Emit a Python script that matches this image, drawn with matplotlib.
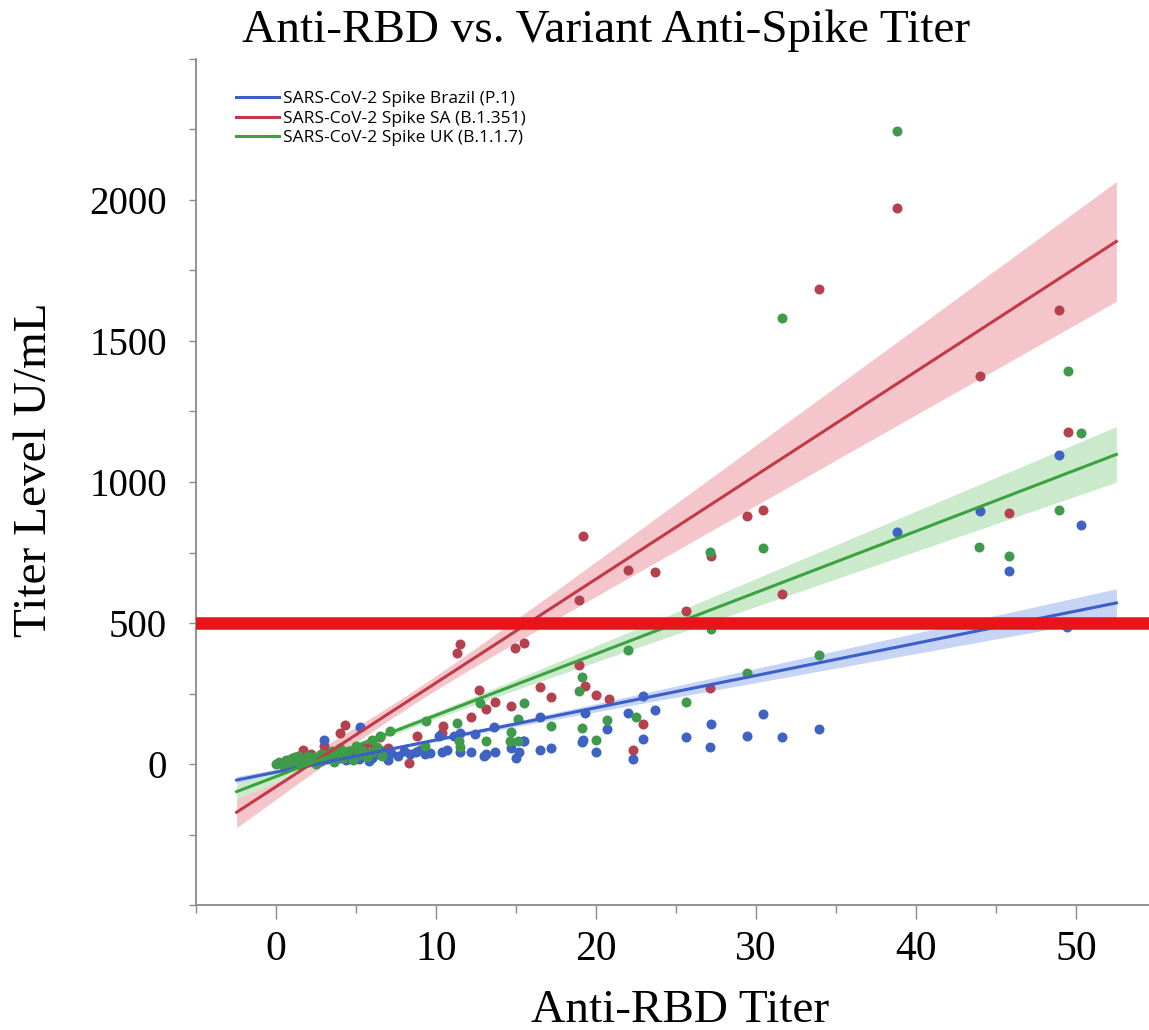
import numpy as np
import matplotlib
matplotlib.use('Agg')
import matplotlib.pyplot as plt

# Anti-RBD titer vs variant titer
brazil_x = [48.9, 50.3, 44.0, 38.8, 45.8, 49.4, 30.4, 27.2, 25.6, 29.4, 31.6, 33.9, 27.1, 23.7,
            22.9, 22.9, 22.3, 22.0, 20.7, 20.0, 19.1, 19.2, 19.3, 17.2, 16.5, 16.5, 15.5, 15.2,
            15.0, 15.4, 14.7, 13.7, 13.1, 13.6, 12.4, 12.2, 11.5, 11.1, 10.7, 10.35, 10.2, 9.3,
            8.75, 13.0, 11.5, 5.25, 3.0,
            0.2, 0.5, 0.8, 1.0, 1.3, 1.7, 2.0, 2.4, 2.8, 3.2, 3.6, 4.0, 4.4, 4.8, 5.2, 5.6,
            6.0, 6.3, 6.8, 7.2, 7.6, 8.0, 8.4, 9.0, 9.6, 7.0, 5.8, 6.5]
brazil_y = [1097, 847, 896, 823, 685, 485, 179, 142, 95, 101, 94, 124, 59, 190,
            241, 88, 16, 182, 124, 44, 78, 85, 182, 57, 48, 167, 81, 43,
            20, 83, 55, 43, 37, 130, 106, 43, 43, 100, 49, 43, 100, 34,
            43, 30, 109, 131, 85,
            2, 5, 8, 3, 10, 12, 6, 15, 10, 18, 12, 22, 15, 25, 18, 30,
            22, 35, 28, 40, 30, 45, 35, 50, 40, 15, 10, 50]

sa_x = [38.8, 33.9, 48.9, 44.0, 49.5, 29.4, 30.4, 45.8, 27.2, 19.2, 22.0, 23.7, 18.9, 31.6,
        25.6, 14.9, 15.5, 11.5, 11.3, 18.9, 19.3, 27.1, 16.5, 17.2, 20.0, 20.8, 12.7, 13.7,
        13.1, 14.7, 12.2, 22.9, 22.3, 10.4, 10.35, 8.8, 6.5, 8.3, 4.3, 4.0, 3.0, 1.7,
        0.3, 0.8, 1.2, 2.2, 2.6, 3.4, 4.6, 5.0, 5.5, 6.0, 2.0, 7.0, 1.0]
sa_y = [1970, 1685, 1611, 1375, 1177, 880, 900, 890, 737, 808, 688, 680, 580, 602,
        543, 410, 430, 425, 394, 351, 278, 268, 274, 237, 244, 229, 262, 221,
        194, 206, 165, 142, 50, 133, 109, 101, 97, 2, 138, 109, 63, 51,
        5, 15, 25, 35, 20, 40, 45, 30, 60, 75, 10, 55, 0]

uk_x = [38.8, 31.6, 49.5, 50.3, 48.9, 30.4, 43.9, 45.8, 27.1, 27.2, 22.0, 33.9, 29.4, 25.6,
        19.1, 18.9, 15.5, 12.75, 20.0, 20.7, 19.1, 22.5, 17.2, 15.1, 14.7, 15.1, 11.3, 9.4,
        7.1, 11.4, 9.3, 11.5, 13.1, 14.6, 6.5,
        0.0, 0.2, 0.4, 0.6, 0.8, 1.0, 1.2, 1.4, 1.6, 1.8, 2.0, 2.2, 2.4, 2.6, 2.8, 3.0,
        3.3, 3.6, 3.9, 4.2, 4.5, 4.8, 5.1, 5.4, 5.7, 6.0, 6.3, 6.6, 0.5, 1.5, 2.5, 3.5,
        5.0, 6.0, 4.0]
uk_y = [2243, 1581, 1392, 1175, 900, 766, 770, 738, 752, 477, 404, 386, 321, 221,
        310, 260, 217, 217, 85, 156, 129, 167, 136, 158, 114, 81, 144, 153,
        117, 80, 65, 60, 80, 83, 99,
        0, 8, 2, 15, 5, 20, 10, 28, 4, 18, 30, 12, 24, 6, 35, 16,
        28, 8, 38, 20, 45, 14, 32, 50, 25, 42, 60, 30, -8, -5, 0, 45,
        65, 85, 55]

labels = ['SARS-CoV-2 Spike Brazil (P.1)', 'SARS-CoV-2 Spike SA (B.1.351)', 'SARS-CoV-2 Spike UK (B.1.1.7)']

# fitted lines as drawn in the figure (intercept, slope) and confidence band size
fit_intercept = [-28.9, -80.4, -44.5]
fit_slope = [11.43, 36.83, 21.76]
band_min = [5.6, 23.7, 11.0]
band_center = 8.0
band_scale = 5.0
fit_range = [-2.46, 52.5]
threshold = 500

point_colors = ['#3e63c3', '#b5414f', '#409a4c']
line_colors = ['#3c5ec8', '#c23a48', '#3aa23e']
band_colors = ['#c6d4f5', '#f4c6cb', '#cbeacc']

W, H = 1149, 1030
fig = plt.figure(figsize=(W / 100, H / 100), dpi=100)
ax = fig.add_axes([196 / W, 125 / H, (1150 - 196) / W, (905 - 59) / H])

xx = np.linspace(fit_range[0], fit_range[1], 200)
for i in range(3):
    yy = fit_intercept[i] + fit_slope[i] * xx
    hw = band_min[i] * np.sqrt(1 + ((xx - band_center) / band_scale) ** 2)
    ax.fill_between(xx, yy - hw, yy + hw, color=band_colors[i], lw=0, zorder=1)

series = [(brazil_x, brazil_y), (sa_x, sa_y), (uk_x, uk_y)]
for i in [1, 0, 2]:
    ax.scatter(series[i][0], series[i][1], s=52, color=point_colors[i], lw=0, zorder=2)

for i in range(3):
    yy = fit_intercept[i] + fit_slope[i] * xx
    ax.plot(xx, yy, color=line_colors[i], lw=2.2, zorder=3, label=labels[i])

ax.axhline(threshold, color='#e8141c', lw=9, zorder=4)

ax.set_xlim(-5, 54.6)
ax.set_ylim(-500, 2500)

for s in ['top', 'right']:
    ax.spines[s].set_visible(False)
for s in ['left', 'bottom']:
    ax.spines[s].set_color('#8a8a8a')
    ax.spines[s].set_linewidth(1.3)

serif = 'Liberation Serif'
ax.set_xticks([0, 10, 20, 30, 40, 50])
ax.set_xticks([-5, 5, 15, 25, 35, 45], minor=True)
ax.set_yticks([0, 500, 1000, 1500, 2000])
ax.set_yticks([-500, -250, 250, 750, 1250, 1750, 2250, 2500], minor=True)
ax.tick_params(axis='x', which='major', length=10, width=1, color='#8a8a8a', pad=8,
               labelsize=30)
ax.tick_params(axis='x', which='minor', length=6, width=1, color='#8a8a8a')
ax.tick_params(axis='y', which='both', length=5, width=1, color='#8a8a8a')
ax.tick_params(axis='y', which='major', pad=16, labelsize=28)
for t in ax.get_xticklabels() + ax.get_yticklabels():
    t.set_family(serif)

fig.text(606 / W, 1 - 42 / H, 'Anti-RBD vs. Variant Anti-Spike Titer', family=serif,
         fontsize=34, ha='center', va='baseline')
fig.text(680 / W, 1 - 1022 / H, 'Anti-RBD Titer', family=serif, fontsize=34,
         ha='center', va='baseline')
fig.text(35 / W, 1 - 470 / H, 'Titer Level U/mL', family=serif, fontsize=34,
         rotation=90, ha='center', va='center')

leg = ax.legend(loc='upper left', bbox_to_anchor=((236 - 196) / (1150 - 196), (905 - 91) / (905 - 59)),
                frameon=False, prop={'family': 'Open Sans', 'size': 12.5},
                handlelength=2.5, handletextpad=0.2, labelspacing=0.2, borderpad=0,
                borderaxespad=0)
for line in leg.get_lines():
    line.set_linewidth(2.2)

fig.savefig('out.png', dpi=100)
